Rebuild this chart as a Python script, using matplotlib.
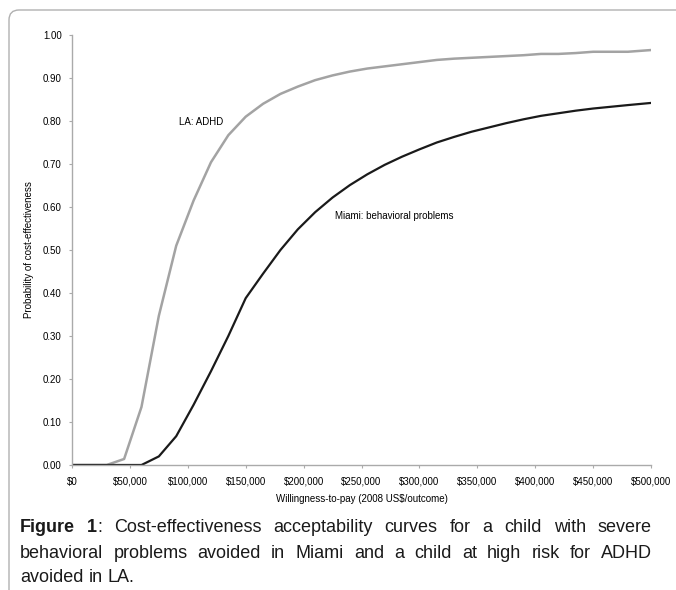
"""Cost-effectiveness acceptability curves, Miami vs LA."""

import matplotlib
matplotlib.use("Agg")
import matplotlib.pyplot as plt
from matplotlib.patches import FancyBboxPatch
from matplotlib.ticker import FuncFormatter

plt.rcParams["font.family"] = ["Liberation Sans", "DejaVu Sans"]

# willingness-to-pay grid (US$)
wtp = [0, 15000, 30000, 45000, 60000, 75000, 90000, 105000, 120000, 135000,
       150000, 165000, 180000, 195000, 210000, 225000, 240000, 255000, 270000,
       285000, 300000, 315000, 330000, 345000, 360000, 375000, 390000, 405000,
       420000, 435000, 450000, 465000, 480000, 500000]

la_adhd = [0.0, 0.0, 0.0, 0.014, 0.135, 0.347, 0.51, 0.615, 0.704, 0.767,
           0.81, 0.84, 0.863, 0.88, 0.895, 0.906, 0.915, 0.922, 0.927,
           0.932, 0.937, 0.942, 0.945, 0.947, 0.949, 0.951, 0.953, 0.956,
           0.956, 0.958, 0.961, 0.961, 0.961, 0.965]

miami_behav = [0.0, 0.0, 0.0, 0.0, 0.0, 0.02, 0.067, 0.14, 0.218, 0.30,
               0.388, 0.445, 0.50, 0.548, 0.588, 0.622, 0.651, 0.676, 0.698,
               0.717, 0.734, 0.75, 0.763, 0.775, 0.785, 0.795, 0.804, 0.812,
               0.818, 0.824, 0.829, 0.833, 0.837, 0.842]

x_ticks = list(range(0, 500001, 50000))
y_ticks = [i / 10 for i in range(11)]

caption = [
    [[("Figure", "bold")], [("1", "bold"), (":", "normal")], "Cost-effectiveness",
     "acceptability", "curves", "for", "a", "child", "with", "severe"],
    ["behavioral", "problems", "avoided", "in", "Miami", "and", "a", "child",
     "at", "high", "risk", "for", "ADHD"],
    ["avoided", "in", "LA."],
]

W, H = 676, 590


def main():
    fig = plt.figure(figsize=(W / 100, H / 100), dpi=100)
    ax = fig.add_axes([72 / W, 1 - 465 / H, (651 - 72) / W, (465 - 35) / H])

    ax.plot(wtp, la_adhd, color="#a3a3a3", linewidth=1.8)
    ax.plot(wtp, miami_behav, color="#1a1a1a", linewidth=1.6)

    ax.set_xlim(0, 500000)
    ax.set_ylim(0, 1.0)
    ax.set_xticks(x_ticks)
    ax.set_yticks(y_ticks)
    ax.xaxis.set_major_formatter(FuncFormatter(lambda v, p: f"${v:,.0f}"))
    ax.yaxis.set_major_formatter(FuncFormatter(lambda v, p: f"{v:.2f}"))
    ax.tick_params(labelsize=7, length=2.5, width=0.8, color="#aaaaaa")
    ax.tick_params(axis="y", pad=5)
    ax.tick_params(axis="x", pad=6)

    for s in ("top", "right"):
        ax.spines[s].set_visible(False)
    for s in ("left", "bottom"):
        ax.spines[s].set_color("#aaaaaa")
        ax.spines[s].set_linewidth(1.0)

    ax.set_xlabel("Willingness-to-pay (2008 US$/outcome)", fontsize=7, labelpad=5)
    ax.set_ylabel("Probability of cost-effectiveness", fontsize=7, labelpad=6)

    ax.text(92000, 0.797, "LA: ADHD", fontsize=7, va="center")
    ax.text(227000, 0.58, "Miami: behavioral problems", fontsize=7, va="center")

    # rounded frame (only top and left visible)
    frame = FancyBboxPatch((9 / 100, -1.0), 10.0, (H - 10) / 100 + 1.0,
                           boxstyle="round,pad=0,rounding_size=0.1",
                           transform=fig.dpi_scale_trans, fill=False,
                           edgecolor="#b0b0b0", linewidth=1.0)
    fig.add_artist(frame)

    # justified caption
    renderer = fig.canvas.get_renderer()
    fs = 13
    x0, x1 = 20, 652
    ys = [528, 553, 578]
    for li, (words, yp) in enumerate(zip(caption, ys)):
        segs_all = []
        widths = []
        for w in words:
            segs = [(w, "normal")] if isinstance(w, str) else w
            ww = 0
            items = []
            for txt, wt in segs:
                t = fig.text(0, 0, txt, fontsize=fs, fontweight=wt)
                tw = t.get_window_extent(renderer).width
                t.remove()
                items.append((txt, wt, tw))
                ww += tw
            segs_all.append(items)
            widths.append(ww)
        if li < len(caption) - 1:
            gap = (x1 - x0 - sum(widths)) / (len(words) - 1)
        else:
            gap = 5
        x = x0
        for items, ww in zip(segs_all, widths):
            xx = x
            for txt, wt, tw in items:
                fig.text(xx / W, 1 - yp / H, txt, fontsize=fs, fontweight=wt,
                         va="center", ha="left", color="#1a1a1a")
                xx += tw
            x += ww + gap

    fig.savefig("out.png", dpi=100)
    plt.close(fig)


if __name__ == "__main__":
    main()
